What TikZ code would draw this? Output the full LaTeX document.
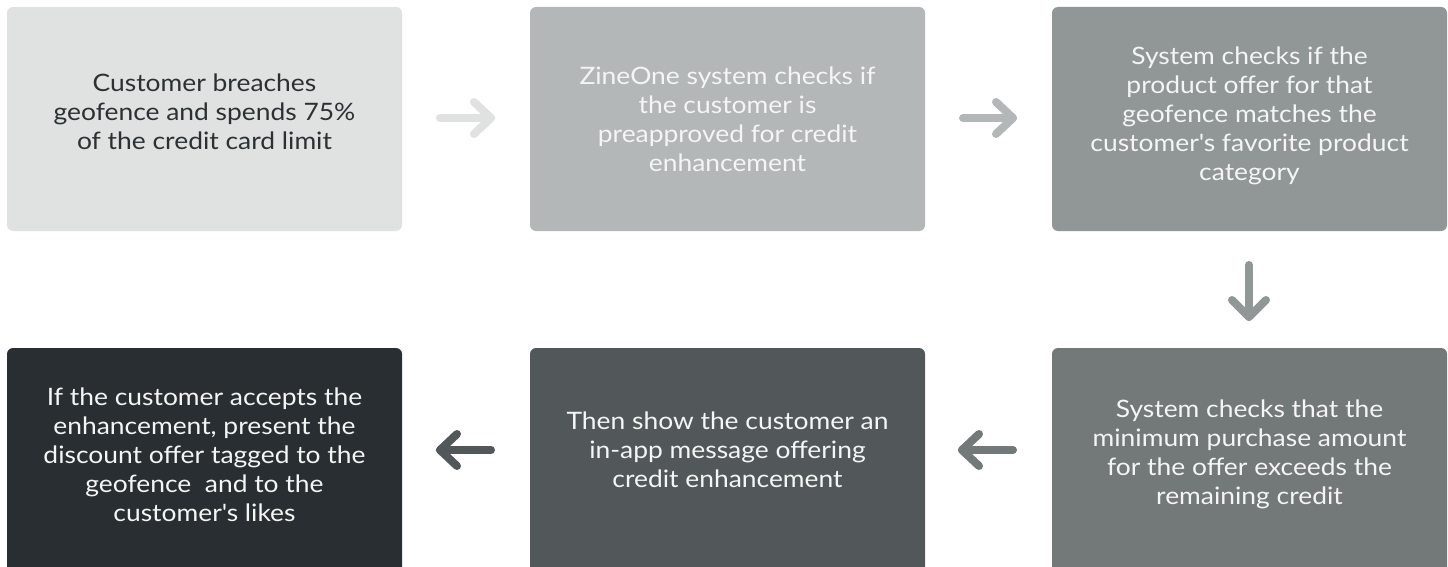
\documentclass[tikz,border=0pt]{standalone}
\usepackage{fontspec}
\setmainfont{Lato}[FakeStretch=1.1]
\definecolor{c1}{HTML}{E0E2E2}
\definecolor{c2}{HTML}{B3B7B7}
\definecolor{c3}{HTML}{919696}
\definecolor{c6}{HTML}{737879}
\definecolor{c5}{HTML}{525859}
\definecolor{c4}{HTML}{282E31}
\definecolor{darktxt}{HTML}{2B3133}
\definecolor{lighttxt}{HTML}{F4F5F5}
\tikzset{
  box/.style={rounded corners=6pt, minimum width=395pt, minimum height=224pt, inner sep=0pt, outer sep=0pt},
  lowbox/.style={box, minimum height=240pt, anchor=north},
  topbox/.style={box, anchor=north},
  txt/.style={align=center, font=\fontsize{24}{29}\selectfont, inner sep=0pt},
  arr/.style={line width=8pt, line cap=round, line join=round}
}
\begin{document}
\begin{tikzpicture}[x=1pt,y=-1pt]
\clip (0,0) rectangle (1448,567);
\fill[white] (0,0) rectangle (1448,567);
% top row
\node[topbox, fill=c1] (b1) at (204.5,7) {};
\node[topbox, fill=c2] (b2) at (727.5,7) {};
\node[topbox, fill=c3] (b3) at (1249.5,7) {};
% bottom row
\node[lowbox, fill=c4] (b4) at (204.5,348) {};
\node[lowbox, fill=c5] (b5) at (727.5,348) {};
\node[lowbox, fill=c6] (b6) at (1249.5,348) {};
% texts
\node[txt, text=darktxt] (t1) at (204.5,112) {Customer breaches\\geofence and spends 75\%\\of the credit card limit};
\node[txt, text=lighttxt] (t2) at (727.5,119) {ZineOne system checks if\\the customer is\\preapproved for credit\\enhancement};
\node[txt, text=lighttxt] (t3) at (1249.5,116) {System checks if the\\product offer for that\\geofence matches the\\customer\textquotesingle s favorite product\\category};
\node[txt, text=lighttxt] (t4) at (204.5,455) {If the customer accepts the\\enhancement, present the\\discount offer tagged to the\\geofence\ \ and to the\\customer\textquotesingle s likes};
\node[txt, text=lighttxt] (t5) at (727.5,450) {Then show the customer an\\in-app message offering\\credit enhancement};
\node[txt, text=lighttxt] (t6) at (1249.5,454) {System checks that the\\minimum purchase amount\\for the offer exceeds the\\remaining credit};
% arrows
\coordinate (a1s) at (440,118); \coordinate (a1e) at (491,118);
\draw[arr, c1] (a1s) -- (a1e);
\draw[arr, c1] ([shift={(-17,-16)}]a1e) -- (a1e) -- ([shift={(-17,16)}]a1e);
\coordinate (a2s) at (963,118); \coordinate (a2e) at (1013,118);
\draw[arr, c2] (a2s) -- (a2e);
\draw[arr, c2] ([shift={(-17,-16)}]a2e) -- (a2e) -- ([shift={(-17,16)}]a2e);
\coordinate (a3s) at (1249,265); \coordinate (a3e) at (1249,317);
\draw[arr, c3] (a3s) -- (a3e);
\draw[arr, c3] ([shift={(-17,-17)}]a3e) -- (a3e) -- ([shift={(17,-17)}]a3e);
\coordinate (a4s) at (1013,450); \coordinate (a4e) at (962,450);
\draw[arr, c6] (a4s) -- (a4e);
\draw[arr, c6] ([shift={(17,-16)}]a4e) -- (a4e) -- ([shift={(17,16)}]a4e);
\coordinate (a5s) at (491,450); \coordinate (a5e) at (440,450);
\draw[arr, c5] (a5s) -- (a5e);
\draw[arr, c5] ([shift={(17,-16)}]a5e) -- (a5e) -- ([shift={(17,16)}]a5e);
\end{tikzpicture}
\end{document}
